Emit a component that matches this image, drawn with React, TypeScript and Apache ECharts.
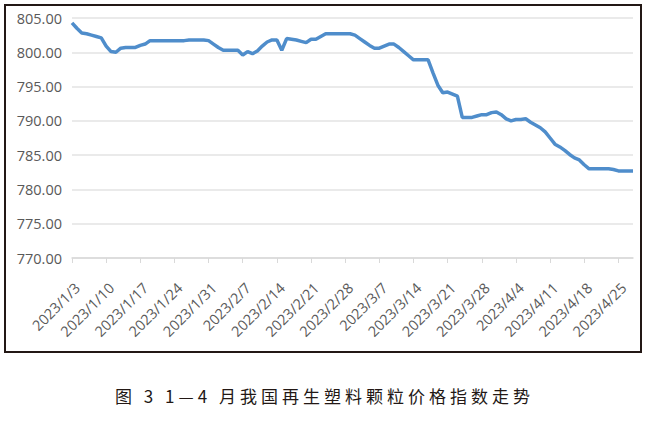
import React, { useEffect, useRef } from "react";
import * as echarts from "echarts";

// Daily calendar dates from 2023/1/3 to 2023/4/28 (116 days)
const startDate = { y: 2023, m: 1, d: 3 };
const dayCount = 116;
const categories: string[] = (() => {
  const out: string[] = [];
  const base = new Date(startDate.y, startDate.m - 1, startDate.d);
  for (let i = 0; i < dayCount; i++) {
    const dt = new Date(base.getTime());
    dt.setDate(base.getDate() + i);
    out.push(`${dt.getFullYear()}/${dt.getMonth() + 1}/${dt.getDate()}`);
  }
  return out;
})();

// Price index values, one per day
const priceIndex: number[] = [
  804.3, 803.5, 802.8, 802.7, 802.5, 802.3, 802.1, 800.9, 800.1, 800.0,
  800.6, 800.7, 800.7, 800.7, 801.0, 801.2, 801.7, 801.7, 801.7, 801.7,
  801.7, 801.7, 801.7, 801.7, 801.8, 801.8, 801.8, 801.8, 801.7, 801.2,
  800.7, 800.3, 800.3, 800.3, 800.3, 799.6, 800.1, 799.8, 800.2, 800.9,
  801.5, 801.8, 801.8, 800.3, 802.0, 801.9, 801.8, 801.6, 801.4, 801.9,
  801.9, 802.3, 802.7, 802.7, 802.7, 802.7, 802.7, 802.7, 802.5, 802.0,
  801.5, 801.0, 800.6, 800.6, 800.9, 801.2, 801.2, 800.7, 800.1, 799.5,
  798.9, 798.9, 798.9, 798.9, 797.0, 795.2, 794.1, 794.2, 793.9, 793.6,
  790.5, 790.5, 790.5, 790.7, 790.9, 790.9, 791.2, 791.3, 790.9, 790.3,
  790.0, 790.2, 790.2, 790.3, 789.8, 789.4, 789.0, 788.4, 787.5, 786.6,
  786.2, 785.7, 785.1, 784.6, 784.3, 783.6, 783.0, 783.0, 783.0, 783.0,
  783.0, 782.9, 782.7, 782.7, 782.7, 782.7,
];

const yMin = 770;
const yMax = 805;
const yStep = 5;
const caption = "图 3 1—4 月我国再生塑料颗粒价格指数走势";

export default function App() {
  const ref = useRef<HTMLDivElement>(null);
  useEffect(() => {
    if (!ref.current) return;
    const chart = echarts.init(ref.current, undefined, { renderer: "svg" });
    chart.setOption({
      animation: false,
      backgroundColor: "#ffffff",
      grid: { left: 72, right: 16, top: 18, bottom: 176, containLabel: false },
      xAxis: {
        type: "category",
        data: categories,
        boundaryGap: false,
        axisLine: { lineStyle: { color: "#D9D9D9", width: 1.5 } },
        axisTick: { interval: 6, length: 5, lineStyle: { color: "#D9D9D9" } },
        axisLabel: {
          interval: 6,
          rotate: 45,
          fontSize: 14.5,
          fontFamily: "Open Sans, sans-serif",
          color: "#595959",
          margin: 22,
          align: "right",
          verticalAlign: "top",
        },
        splitLine: { show: false },
      },
      yAxis: {
        type: "value",
        min: yMin,
        max: yMax,
        interval: yStep,
        axisLine: { show: false },
        axisTick: { show: false },
        axisLabel: {
          fontSize: 14.5,
          fontFamily: "Open Sans, sans-serif",
          color: "#595959",
          margin: 10,
          formatter: (v: number) => v.toFixed(2),
        },
        splitLine: { lineStyle: { color: "#E3E3E3", width: 1.5 } },
      },
      series: [
        {
          type: "line",
          data: priceIndex,
          symbol: "none",
          lineStyle: { color: "#4F8DCB", width: 3.5 },
          itemStyle: { color: "#4F8DCB" },
        },
      ],
      graphic: [
        {
          type: "rect",
          shape: { x: 5, y: 5, width: 636, height: 347 },
          style: { fill: "none", stroke: "#231815", lineWidth: 2 },
          silent: true,
        },
      ],
    });
    return () => chart.dispose();
  }, []);

  return (
    <div style={{ position: "absolute", left: 0, top: 0, width: 649, height: 434, background: "#fff" }}>
      <div ref={ref} style={{ position: "absolute", left: 0, top: 0, width: 649, height: 434 }} />
      <div
        style={{
          position: "absolute",
          left: 0,
          top: 383,
          width: 649,
          textAlign: "center",
          fontFamily: "'Noto Sans CJK SC', sans-serif",
          fontSize: 17,
          letterSpacing: 4,
          color: "#231815",
          whiteSpace: "pre",
        }}
      >
        {caption}
      </div>
    </div>
  );
}
